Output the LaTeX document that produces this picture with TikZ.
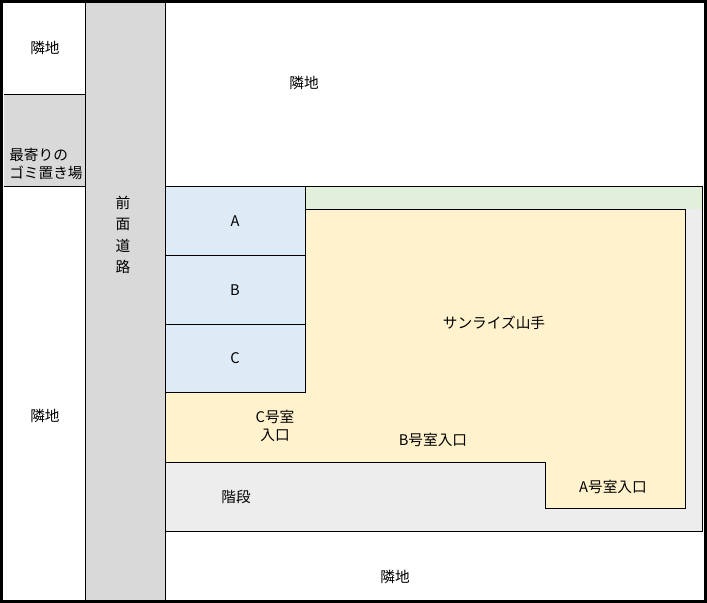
\documentclass[tikz,border=0pt]{standalone}
\usepackage{fontspec}
\setmainfont{Noto Sans CJK JP}
\begin{document}
\begin{tikzpicture}[x=0.75pt,y=-0.75pt,
  ln/.style={draw=black,line width=0.6pt},
  lbl/.style={font=\fontsize{11}{13}\selectfont,inner sep=0pt,align=center}]
\definecolor{road}{HTML}{D9D9D9}
\definecolor{lg}{HTML}{EDEDED}
\definecolor{grn}{HTML}{E2EFDA}
\definecolor{yel}{HTML}{FFF2CC}
\definecolor{blu}{HTML}{DDEBF7}
\useasboundingbox (0,0) rectangle (707,603);
\fill[white] (0,0) rectangle (707,603);
% road and gomi area
\fill[road] (85,2) rectangle (165,600);
\fill[road] (4,94) rectangle (85,186);
% light gray
\fill[lg,ln] (165,186) rectangle (702,531);
% green
\fill[grn] (305,186) rectangle (702,209);
\draw[ln] (305,186) -- (702,186);
% yellow
\fill[yel,ln] (305,209) -- (685,209) -- (685,508) -- (545,508) -- (545,462) -- (165,462) -- (165,392) -- (305,392) -- cycle;
% blue
\fill[blu,ln] (165,186) rectangle (305,255);
\fill[blu,ln] (165,255) rectangle (305,324);
\fill[blu,ln] (165,324) rectangle (305,392);
% neighbor boxes
\draw[ln] (4,94) -- (85,94);
\draw[ln] (4,186) -- (85,186);
\draw[ln] (85,2) -- (85,600);
\draw[ln] (165,2) -- (165,600);
\draw[ln] (165,531) -- (702,531);
% outer border
\draw[line width=2.2pt] (1.5,1.5) rectangle (705.5,601.5);
% texts
\node[lbl] (n1) at (45,48) {隣地};
\node[lbl] (n2) at (304,83) {隣地};
\node[lbl] (n3) at (45,416) {隣地};
\node[lbl] (n4) at (395,577) {隣地};
\node[lbl,align=left,anchor=west] (g) at (9,164) {最寄りの\\ゴミ置き場};
\node[lbl,align=center] (rd) at (123,235) {前\\[3pt]面\\[3pt]道\\[3pt]路};
\node[lbl] (a) at (235,221) {A};
\node[lbl] (b) at (235,290) {B};
\node[lbl] (c) at (235,358) {C};
\node[lbl] (s) at (494,323) {サンライズ山手};
\node[lbl] (ce) at (275,426) {C号室\\入口};
\node[lbl] (be) at (433,440) {B号室入口};
\node[lbl] (k) at (236,497) {階段};
\node[lbl] (ae) at (613,487) {A号室入口};
\end{tikzpicture}
\end{document}
